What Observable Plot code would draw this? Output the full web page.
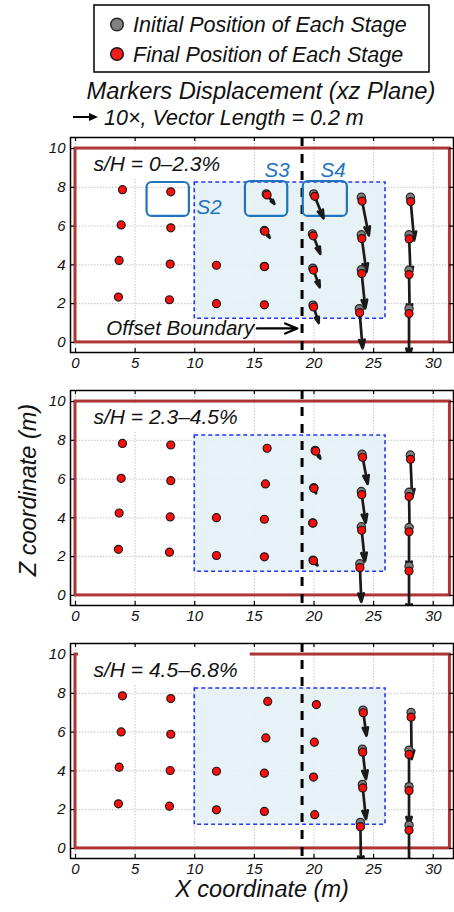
<!DOCTYPE html>
<html><head><meta charset="utf-8">
<script src="https://cdn.jsdelivr.net/npm/d3@7"></script>
<script src="https://cdn.jsdelivr.net/npm/@observablehq/plot@0.6"></script>
<style>
body{margin:0;background:#fff;font-family:"Liberation Sans",Arial,sans-serif;}
#root{position:relative;width:454px;height:912px;overflow:hidden;background:#fff;}
#root svg{position:absolute;left:0;}
</style></head><body><div id="root"></div>
<script>
// ---------------- data ----------------
const xTicks = [0, 5, 10, 15, 20, 25, 30];
const zTicks = [0, 2, 4, 6, 8, 10];
const panelLabels = ["s/H = 0–2.3%", "s/H = 2.3–4.5%", "s/H = 4.5–6.8%"];
const legendLabels = ["Initial Position of Each Stage", "Final Position of Each Stage"];
const titleText = "Markers Displacement (xz Plane)";
const subtitleText = "10×, Vector Length = 0.2 m";
const vectorScale = 10;
const offsetBoundaryX = 19;
const zone = [{x1: 10, x2: 26, y1: 1.22, y2: 8.25}];
const model = [{x1: 0, x2: 31.4, y1: 0, y2: 10}];
const sBoxes = [
  {name: "S2", x1: 6.0, x2: 9.55, y1: 6.5, y2: 8.25, lx: 11.2, ly: 6.95},
  {name: "S3", x1: 14.25, x2: 17.8, y1: 6.5, y2: 8.3, lx: 16.9, ly: 8.85},
  {name: "S4", x1: 19.1, x2: 22.8, y1: 6.5, y2: 8.3, lx: 21.6, ly: 8.85}
];
const boundaryNote = [{text: "Offset Boundary", x: 15.0, y: 0.72, ax1: 15.2, ax2: 18.6}];

// initial marker positions (m) and stage displacements (m); columns x≈4,8,12,16,20,24,28
const p1X0 = [3.94,3.83,3.66,3.60, 7.99,7.99,7.94,7.88, 11.82,11.82, 16.0,15.84,15.84,15.84, 19.98,19.87,19.9,19.92, 23.97,23.97,23.97,23.8, 28.08,27.97,27.97,27.97];
const p1Z0 = [7.88,6.06,4.23,2.34, 7.77,5.91,4.04,2.2, 3.98,2.0, 7.66,5.77,3.92,1.94, 7.66,5.6,3.83,1.92, 7.49,5.55,3.75,1.74, 7.49,5.55,3.72,1.74];
const p1DX = [0,0,0,0, 0,0,0,0, 0,0, 0.068,0.045,0.01,0, 0.082,0.066,0.058,0.048, 0.063,0.043,0.033,0.028, 0.032,0.013,0.005,0];
const p1DZ = [0,0,0,0, 0,0,0,0, 0,0, -0.051,-0.037,-0.01,0, -0.126,-0.103,-0.098,-0.092, -0.197,-0.193,-0.2,-0.205, -0.223,-0.21,-0.22,-0.25];

const p2X0 = [3.94,3.83,3.66,3.60, 7.99,7.99,7.94,7.88, 11.82,11.82, 16.07,15.93,15.84,15.84, 20.1,19.98,19.9,19.92, 24.03,23.97,23.97,23.84, 28.08,27.97,27.97,27.97];
const p2Z0 = [7.84,6.04,4.25,2.38, 7.76,5.92,4.05,2.23, 4.01,2.06, 7.59,5.75,3.93,1.99, 7.48,5.55,3.74,1.82, 7.28,5.36,3.54,1.63, 7.24,5.32,3.5,1.5];
const p2DX = [0,0,0,0, 0,0,0,0, 0,0, 0,0,0,0, 0.043,0.02,0.005,0.037, 0.047,0.036,0.03,0.013, 0.015,0.005,0,0];
const p2DZ = [0,0,0,0, 0,0,0,0, 0,0, 0,0,0,0, -0.042,-0.028,-0.01,-0.027, -0.153,-0.162,-0.179,-0.197, -0.22,-0.22,-0.22,-0.24];

const p3X0 = [3.94,3.83,3.66,3.60, 7.99,7.99,7.94,7.88, 11.82,11.82, 16.12,15.96,15.84,15.84, 20.2,20.03,19.96,20.06, 24.11,24.06,24.06,23.89, 28.14,27.97,27.97,27.97];
const p3Z0 = [7.87,6.01,4.19,2.3, 7.73,5.89,4.02,2.18, 3.98,1.99, 7.58,5.7,3.88,1.91, 7.42,5.48,3.68,1.74, 7.13,5.12,3.3,1.34, 7.01,5.07,3.18,1.2];
const p3DX = [0,0,0,0, 0,0,0,0, 0,0, 0,0,0,0, 0,0,0,0, 0.029,0.03,0.03,0.005, 0.005,0,0,0];
const p3DZ = [0,0,0,0, 0,0,0,0, 0,0, 0,0,0,0, 0,0,0,0, -0.132,-0.155,-0.179,-0.22, -0.24,-0.22,-0.2,-0.26];

// ---------------- layout ----------------
const W = 454, ML = 70, MR = 1, MT = 6, MB = 28, FH = 215, FW = W - ML - MR;
const panelTops = [131, 384, 637];
const root = document.getElementById("root");
const FONT = '"Liberation Sans", Arial, sans-serif';

// header
const hdr = d3.select(root).append("svg").attr("width", W).attr("height", 130).style("top", "0px");
hdr.append("rect").attr("x", 94).attr("y", 5).attr("width", 335).attr("height", 67)
  .attr("fill", "#fff").attr("stroke", "#000").attr("stroke-width", 1.5);
hdr.append("circle").attr("cx", 117).attr("cy", 24.5).attr("r", 6.3).attr("fill", "#808080").attr("stroke", "#2a2a2a").attr("stroke-width", 1.5);
hdr.append("circle").attr("cx", 117).attr("cy", 54).attr("r", 6.3).attr("fill", "#f21c1c").attr("stroke", "#1a1a1a").attr("stroke-width", 1.5);
legendLabels.forEach((t, i) => hdr.append("text").attr("x", 133).attr("y", 31.5 + i * 30)
  .attr("font-family", FONT).attr("font-style", "italic").attr("font-size", 21.5).attr("fill", "#111").text(t));
hdr.append("text").attr("x", 261).attr("y", 99).attr("text-anchor", "middle")
  .attr("font-family", FONT).attr("font-style", "italic").attr("font-size", 23.7).attr("fill", "#111").text(titleText);
hdr.append("line").attr("x1", 73).attr("x2", 91).attr("y1", 117).attr("y2", 117).attr("stroke", "#000").attr("stroke-width", 2);
hdr.append("path").attr("d", "M98,117 L89,113 L89,121 Z").attr("fill", "#000");
hdr.append("text").attr("x", 104).attr("y", 124.5)
  .attr("font-family", FONT).attr("font-style", "italic").attr("font-size", 21.5).attr("fill", "#111").text(subtitleText);

function panel(X0, Z0, DX, DZ, label, idx) {
  const rows = X0.map((x, i) => ({
    x0: x, z0: Z0[i],
    x1: x + DX[i], z1: Z0[i] + DZ[i],
    xa: x + vectorScale * DX[i], za: Z0[i] + vectorScale * DZ[i],
    moving: Math.hypot(DX[i], DZ[i]) > 0.004
  }));
  const labelBox = idx === 2 ? [{x1: 0.25, x2: 14.65, y1: 8.45, y2: 10.35}] : [{x1: 0.35, x2: 13.9, y1: 8.45, y2: 9.8}];
  const marks = [
    Plot.gridX(xTicks, {stroke: "#b5b5b5", strokeOpacity: 1, strokeWidth: 0.8, strokeDasharray: "1.5,1.5"}),
    Plot.gridY(zTicks, {stroke: "#b5b5b5", strokeOpacity: 1, strokeWidth: 0.8, strokeDasharray: "1.5,1.5"}),
    Plot.rect(zone, {x1: "x1", x2: "x2", y1: "y1", y2: "y2", fill: "#e4f1f5", fillOpacity: 0.9, stroke: "#2536f0", strokeWidth: 1.6, strokeDasharray: "4,3"}),
    Plot.rect(model, {x1: "x1", x2: "x2", y1: "y1", y2: "y2", fill: "none", stroke: "#ad3535", strokeWidth: 3}),
    Plot.rect(labelBox, {x1: "x1", x2: "x2", y1: "y1", y2: "y2", fill: "#fff"}),
    Plot.ruleX([offsetBoundaryX], {stroke: "#000", strokeWidth: 3, strokeDasharray: "9,8"}),
  ];
  if (idx === 0) {
    marks.push(
      Plot.rect(sBoxes, {x1: "x1", x2: "x2", y1: "y1", y2: "y2", rx: 5, fill: "none", stroke: "#1f74bd", strokeWidth: 2.2}),
      Plot.text(sBoxes, {x: "lx", y: "ly", text: "name", fill: "#1f74bd", fontSize: 20.5, fontStyle: "italic"}),
      Plot.arrow(boundaryNote, {x1: "ax1", x2: "ax2", y1: "y", y2: "y", stroke: "#000", strokeWidth: 2.2, headLength: 9, headAngle: 45}),
      Plot.text(boundaryNote, {x: "x", y: "y", text: "text", textAnchor: "end", fontSize: 20.5, fontStyle: "italic", fill: "#111"})
    );
  }
  marks.push(
    Plot.arrow(rows.filter(d => d.moving), {x1: "x0", y1: "z0", x2: "xa", y2: "za", stroke: "#1a1a1a", strokeWidth: 2.7, headLength: 5, headAngle: 35, clip: true}),
    Plot.dot(rows.filter(d => d.moving), {x: "x0", y: "z0", r: 4.1, fill: "#7f7f7f", stroke: "#2a2a2a", strokeWidth: 1.2}),
    Plot.dot(rows, {x: "x1", y: "z1", r: 4, fill: "#ff0d0d", stroke: "#1a1a1a", strokeWidth: 1.2}),
    Plot.text([label], {frameAnchor: "top-left", dx: 23, dy: 19, text: d => d, textAnchor: "start", fontSize: 21, fontStyle: "italic", fill: "#111"}),
    // inward ticks on all four sides
    Plot.tickX(xTicks, {x: d => d, insetTop: FH - 4, stroke: "#000", strokeWidth: 1.2}),
    Plot.tickX(xTicks, {x: d => d, insetBottom: FH - 4, stroke: "#000", strokeWidth: 1.2}),
    Plot.tickY(zTicks, {y: d => d, insetRight: FW - 4, stroke: "#000", strokeWidth: 1.2}),
    Plot.tickY(zTicks, {y: d => d, insetLeft: FW - 4, stroke: "#000", strokeWidth: 1.2}),
    Plot.axisX(xTicks, {anchor: "bottom", tickSize: 0, tickPadding: 5, fontSize: 15, fontStyle: "italic", label: null}),
    Plot.axisY(zTicks, {anchor: "left", tickSize: 0, tickPadding: 5, fontSize: 15, fontStyle: "italic", label: null}),
    Plot.frame({stroke: "#000", strokeWidth: 1.5})
  );
  const svg = Plot.plot({
    width: W, height: MT + FH + MB,
    marginLeft: ML, marginRight: MR, marginTop: MT, marginBottom: MB,
    x: {domain: [-0.42, 31.7]},
    y: {domain: [-0.52, 10.57]},
    style: {fontFamily: FONT, color: "#111", background: "transparent", overflow: "visible"},
    marks
  });
  svg.style.top = panelTops[idx] + "px";
  root.appendChild(svg);
}

panel(p1X0, p1Z0, p1DX, p1DZ, panelLabels[0], 0);
panel(p2X0, p2Z0, p2DX, p2DZ, panelLabels[1], 1);
panel(p3X0, p3Z0, p3DX, p3DZ, panelLabels[2], 2);

// shared axis labels
const ft = d3.select(root).append("svg").attr("width", W).attr("height", 912).style("top", "0px").style("pointer-events", "none");
ft.append("text").attr("x", 262).attr("y", 897).attr("text-anchor", "middle")
  .attr("font-family", FONT).attr("font-style", "italic").attr("font-size", 23.5).attr("fill", "#111").text("X coordinate (m)");
ft.append("text").attr("transform", "translate(36,490) rotate(-90)").attr("text-anchor", "middle")
  .attr("font-family", FONT).attr("font-style", "italic").attr("font-size", 23.5).attr("fill", "#111").text("Z coordinate (m)");
</script>
</body></html>
